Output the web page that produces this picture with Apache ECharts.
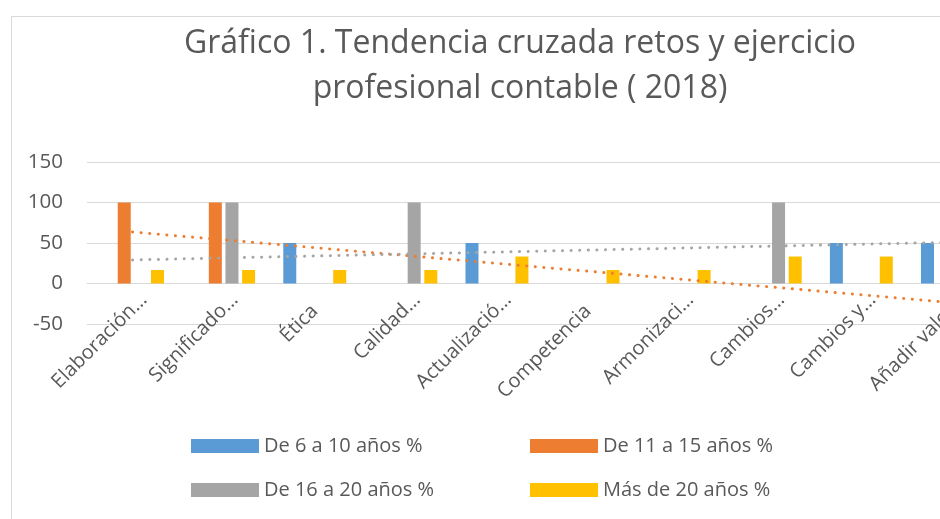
<!DOCTYPE html>
<html>
<head>
<meta charset="utf-8">
<script src="https://cdn.jsdelivr.net/npm/echarts@6/dist/echarts.min.js"></script>
<style>
  html, body { margin: 0; padding: 0; background: #fff; }
  #chart { width: 940px; height: 519px; }
</style>
</head>
<body>
<div id="chart"></div>
<script>
// categorías (etiquetas recortadas como en el original)
var categorias = ['Elaboración…', 'Significado…', 'Ética', 'Calidad…', 'Actualizació…',
  'Competencia', 'Armonizaci…', 'Cambios…', 'Cambios y…', 'Añadir valor…'];

var de6a10 = [0, 0, 50, 0, 50, 0, 0, 0, 50, 50];
var de11a15 = [100, 100, 0, 0, 0, 0, 0, 0, 0, 0];
var de16a20 = [0, 100, 0, 100, 0, 0, 0, 100, 0, 100];
var masDe20 = [16.7, 16.7, 16.7, 16.7, 33.3, 16.7, 16.7, 33.3, 33.3, 0];

var yTicks = [-50, 0, 50, 100, 150];

var nombres = ['De 6 a 10 años %', 'De 11 a 15 años %', 'De 16 a 20 años %', 'Más de 20 años %'];
var colores = ['#5B9BD5', '#ED7D31', '#A5A5A5', '#FFC000'];

// línea de tendencia lineal (mínimos cuadrados), como la de Excel
function tendencia(vals) {
  var n = vals.length, sx = 0, sy = 0, sxy = 0, sxx = 0;
  vals.forEach(function (v, i) {
    var x = i + 1;
    sx += x; sy += v; sxy += x * v; sxx += x * x;
  });
  var b = (n * sxy - sx * sy) / (n * sxx - sx * sx);
  var a = (sy - b * sx) / n;
  return vals.map(function (v, i) { return +(a + b * (i + 1)).toFixed(2); });
}

var chart = echarts.init(document.getElementById('chart'));
var fuente = 'Open Sans';
var gris = '#595959';

var series = [de6a10, de11a15, de16a20, masDe20].map(function (d, i) {
  return {
    name: nombres[i],
    type: 'bar',
    data: d,
    barWidth: 13,
    barGap: '28%',
    itemStyle: { color: colores[i] }
  };
});

[[de11a15, '#ED7D31'], [de16a20, '#A5A5A5']].forEach(function (p) {
  series.push({
    type: 'line',
    data: tendencia(p[0]),
    symbol: 'none',
    silent: true,
    z: 5,
    lineStyle: { color: p[1], width: 3, type: [0.1, 8.5], cap: 'round' }
  });
});

var legendPos = [[191, 436], [530, 436], [191, 480], [530, 480]];
var legends = nombres.map(function (n, i) {
  return {
    data: [n],
    left: legendPos[i][0],
    top: legendPos[i][1],
    itemWidth: 68,
    itemHeight: 14,
    itemGap: 8,
    padding: 0,
    selectedMode: false,
    icon: 'rect',
    textStyle: { fontFamily: fuente, fontSize: 20, color: gris }
  };
});

var option = {
  animation: false,
  backgroundColor: '#fff',
  textStyle: { fontFamily: fuente },
  graphic: [
    {
      type: 'rect',
      shape: { x: 11.5, y: 16.5, width: 1200, height: 700 },
      style: { fill: 'none', stroke: '#D9D9D9', lineWidth: 1 },
      silent: true
    },
    {
      type: 'text',
      x: 520,
      y: 21,
      style: {
        text: 'Gráfico 1. Tendencia cruzada retos y ejercicio\nprofesional contable ( 2018)',
        align: 'center',
        verticalAlign: 'top',
        font: '32px "Open Sans"',
        lineHeight: 45,
        fill: gris
      }
    }
  ],
  legend: legends,
  grid: { left: 87, top: 162, width: 911, height: 162, outerBoundsMode: 'none', containLabel: false },
  xAxis: {
    type: 'category',
    data: categorias,
    axisTick: { show: false },
    axisLine: { onZero: true, lineStyle: { color: '#D9D9D9', width: 1 } },
    axisLabel: {
      interval: 0, rotate: 45, fontSize: 20, color: gris, fontFamily: fuente, margin: -16,
      formatter: function (v) {
        return v.slice(-1) === '…' ? '{e|' + v + '}' : v;
      },
      rich: { e: { fontSize: 20, color: gris, fontFamily: fuente, padding: [0, -16, 0, 0] } }
    }
  },
  yAxis: {
    type: 'value',
    min: yTicks[0],
    max: yTicks[yTicks.length - 1],
    interval: 50,
    axisLine: { show: false },
    axisTick: { show: false },
    axisLabel: { fontSize: 20.5, color: gris, fontFamily: fuente, margin: 24 },
    splitLine: { lineStyle: { color: '#D9D9D9', width: 1 } }
  },
  series: series
};

chart.setOption(option);
</script>
</body>
</html>
